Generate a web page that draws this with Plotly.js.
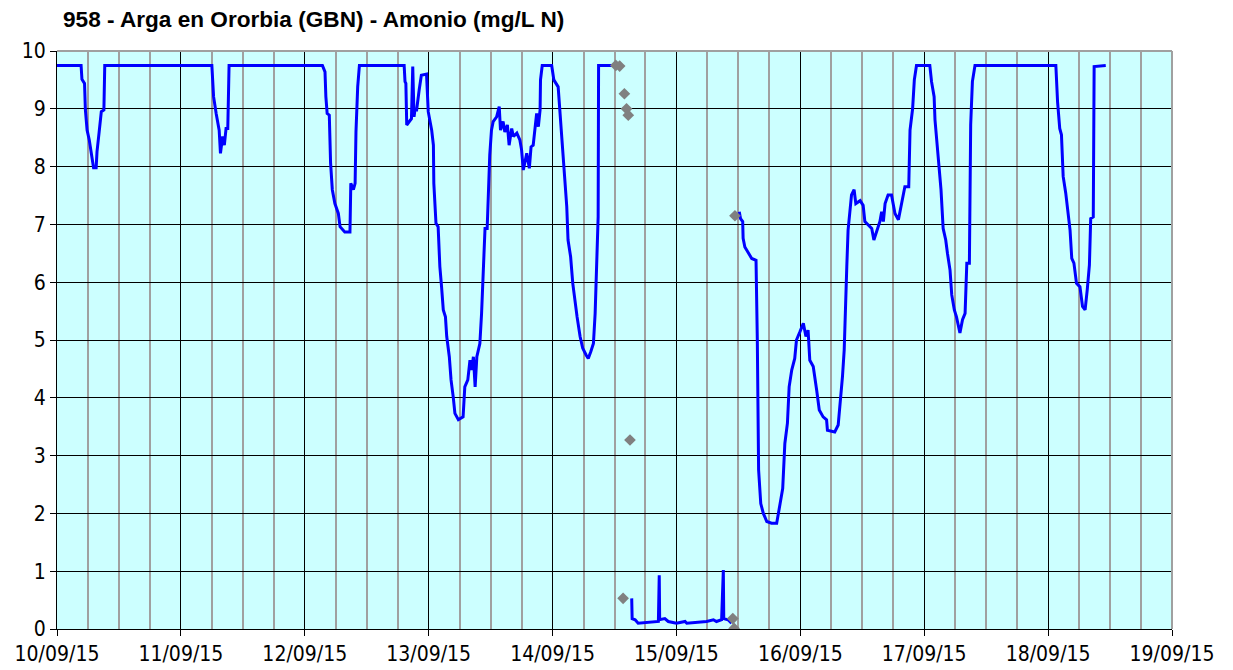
<!DOCTYPE html>
<html>
<head>
<meta charset="utf-8">
<script src="https://cdn.plot.ly/plotly-3.0.1.min.js"></script>
<style>html,body{margin:0;padding:0;background:#fff;}#chart{width:1233px;height:670px;}</style>
</head>
<body>
<div id="chart"></div>
<script>
// ---- DATA ----
const chartTitle = '958 - Arga en Ororbia (GBN) - Amonio (mg/L N)';
const dayDates = ['2015-09-10','2015-09-11','2015-09-12','2015-09-13','2015-09-14','2015-09-15','2015-09-16','2015-09-17','2015-09-18'];

// clock times (HH:MM) of the blue ammonia series, one list per day
const clockTimes = [
  ['00:00','04:40','04:50','05:20','05:30','05:50','06:15','06:35','07:05','07:35','07:45','08:10','08:35','09:05','09:15'],
  ['06:00','06:20','06:50','07:25','07:40','08:05','08:25','08:45','09:05','09:20'],
  ['03:25','03:55','04:05','04:20','04:45','05:00','05:20','05:50','06:30','06:50','07:45','08:45','08:55','09:25','09:45','09:55','10:15','10:35','19:15','19:25','19:35','19:45','20:15','20:40','20:55','21:10','21:20','21:40','22:10','22:35','23:35','23:55'],
  ['00:35','00:55','01:00','01:25','01:50','02:10','02:30','02:50','03:15','03:30','04:00','04:20','04:45','05:05','05:45','06:40','07:00','07:35','08:00','08:20','08:40','09:00','09:20','09:55','10:15','10:35','10:55','11:20','11:35','11:50','12:10','12:30','13:10','13:40','13:55','14:25','14:45','15:15','15:35','16:05','16:25','17:05','17:40','18:00','18:20','19:00','19:30','19:50','20:15','20:35','20:55','21:15','21:35','21:40','22:00','23:50'],
  ['00:15','01:05','01:25','01:45','02:15','02:45','03:00','03:30','03:55','04:20','04:45','05:20','05:50','06:30','06:55','07:25','07:55','08:15','08:30','08:50','08:55','11:45','13:00','15:20','15:25','16:00','16:35','20:30','20:40','20:45','21:45','22:25'],
  ['00:00','01:40','02:00','05:50','07:10','07:45','08:45','09:05','09:10','10:00','10:40','11:30','12:10','12:25','12:50','12:55','13:15','13:55','14:35','15:25','15:40','15:55','16:20','16:50','17:30','18:25','19:25','20:05','20:35','21:00','21:30','21:50','22:20','22:55','23:15','23:55'],
  ['00:35','01:05','01:30','01:50','02:30','03:10','03:40','04:25','05:05','05:15','06:40','07:20','07:50','08:10','08:30','08:45','09:00','09:15','09:35','09:55','10:25','10:45','11:35','12:10','12:30','13:10','13:50','14:15','14:45','15:25','15:45','16:05','16:25','17:00','17:40','18:20','19:00','19:40','20:15','21:00','21:15','21:45','22:05','22:30'],
  ['01:05','01:25','01:55','02:05','02:30','02:55','03:15','03:40','04:10','04:30','05:00','05:20','05:50','06:15','06:55','07:25','07:55','08:15','08:45','09:00','09:20','09:50'],
  ['01:30','01:50','02:15','02:35','02:55','03:25','03:45','04:15','04:35','05:00','05:30','06:10','06:40','07:10','07:35','08:00','08:15','08:45','08:55','11:10']
];
// ammonia values (mg/L N), null = gap in the record
const ammonia = [
  [9.75,9.75,9.51,9.44,8.98,8.63,8.46,8.26,7.98,7.98,8.26,8.6,8.95,8.98,9.75],
  [9.75,9.21,8.92,8.63,8.23,8.52,8.37,8.66,8.66,9.75],
  [9.75,9.64,9.21,8.92,8.89,8.06,7.6,7.36,7.19,6.96,6.87,6.87,7.71,7.6,7.71,8.6,9.38,9.75,9.75,9.47,9.44,8.72,8.78,8.83,9.73,8.86,8.98,8.98,9.33,9.58,9.6,8.95],
  [8.63,8.37,7.71,7.02,6.96,6.27,5.92,5.52,5.4,5.06,4.71,4.31,4.02,3.73,3.62,3.67,4.19,4.31,4.65,4.48,4.71,4.19,4.71,4.94,5.46,6.1,6.93,6.93,7.6,8.2,8.63,8.78,8.86,9.04,8.63,8.78,8.6,8.72,8.37,8.66,8.52,8.58,8.46,8.29,7.94,8.23,7.97,8.34,8.37,8.63,8.92,8.69,8.98,9.5,9.75,9.75],
  [9.5,9.38,8.98,8.52,8.06,7.31,6.73,6.44,5.98,5.63,5.4,5.06,4.86,4.74,4.68,4.8,4.94,5.46,6.1,7.13,9.75,9.75,null,0.53,0.18,0.16,0.1,0.13,0.93,0.16,0.18,0.13],
  [0.1,0.13,0.1,0.13,0.16,0.13,0.16,1.02,0.18,0.16,0.1,null,7.22,7.1,7.05,6.76,6.61,6.5,6.41,6.38,5.0,2.75,2.17,2.0,1.86,1.83,1.83,2.17,2.43,3.21,3.56,4.19,4.48,4.68,5.0,5.14],
  [5.29,5.06,5.17,4.65,4.54,4.13,3.79,3.67,3.62,3.44,3.41,3.53,3.96,4.37,4.83,5.69,6.27,6.9,7.19,7.51,7.6,7.36,7.41,7.33,7.05,6.99,6.93,6.73,6.87,7.05,7.22,7.05,7.36,7.51,7.51,7.19,7.08,7.36,7.65,7.65,8.63,9.0,9.5,9.75],
  [9.75,9.47,9.21,8.81,8.34,7.88,7.6,6.93,6.73,6.5,6.21,5.78,5.52,5.4,5.12,5.35,5.46,6.33,6.33,8.72,9.47,9.75],
  [9.75,9.12,8.66,8.55,7.83,7.54,7.25,6.9,6.41,6.33,5.98,5.92,5.58,5.52,5.87,6.3,7.1,7.13,9.73,9.75]
];

// grey diamond points (separate series)
const greyTimes = ['2015-09-14 12:15','2015-09-14 13:00','2015-09-14 13:40','2015-09-14 13:55','2015-09-14 14:20','2015-09-14 14:40','2015-09-14 15:00','2015-09-15 10:55','2015-09-15 11:10','2015-09-15 11:20'];
const greyValues = [9.75,9.74,0.53,9.26,9.0,8.89,3.27,0.18,0.01,7.15];

const xTickFormat = '%d/%m/%y';

// ---- build series ----
const xs = [], ys = [];
dayDates.forEach((d, i) => {
  clockTimes[i].forEach((t, j) => { xs.push(d + ' ' + t); ys.push(ammonia[i][j]); });
});

const tickFont = {family: '"DejaVu Sans Condensed", "DejaVu Sans", Verdana, sans-serif', size: 21, color: '#000'};

const traces = [
  {x: xs, y: ys, type: 'scatter', mode: 'lines', connectgaps: false,
   line: {color: '#0000FF', width: 3}, hoverinfo: 'x+y'},
  {x: greyTimes, y: greyValues, type: 'scatter', mode: 'markers',
   marker: {symbol: 'diamond', size: 9, color: '#808080'}}
];

const layout = {
  width: 1233, height: 670,
  margin: {l: 57, r: 61, t: 51, b: 41},
  paper_bgcolor: '#ffffff', plot_bgcolor: '#CCFFFF',
  showlegend: false,
  title: {text: chartTitle, x: 63/1233, xanchor: 'left', xref: 'container',
          y: 1 - 19/670, yanchor: 'middle', yref: 'container',
          font: {family: '"Liberation Sans", Arial, sans-serif', size: 22.6, weight: 'bold', color: '#000'}},
  xaxis: {type: 'date', range: ['2015-09-10 00:00', '2015-09-19 00:00'],
          tick0: '2015-09-10', dtick: 86400000, tickformat: xTickFormat,
          showgrid: true, gridcolor: '#000', gridwidth: 1,
          minor: {dtick: 21600000, tick0: '2015-09-10', showgrid: true, gridcolor: '#A0A0A0', gridwidth: 2, ticks: ''},
          ticks: 'outside', ticklen: 6, tickcolor: '#000', tickwidth: 1,
          showline: true, linecolor: '#000', linewidth: 1, zeroline: false,
          tickfont: tickFont, fixedrange: true},
  yaxis: {range: [0, 10], dtick: 1, tick0: 0,
          showgrid: true, gridcolor: '#000', gridwidth: 1,
          ticks: 'outside', ticklen: 6, tickcolor: '#000', tickwidth: 1,
          showline: true, linecolor: '#000', linewidth: 1, zeroline: false,
          tickfont: tickFont, fixedrange: true},
  shapes: [
    {type: 'line', xref: 'paper', yref: 'paper', x0: 0, x1: 1, y0: 1, y1: 1, line: {color: '#A0A0A0', width: 2}, layer: 'above'},
    {type: 'line', xref: 'paper', yref: 'paper', x0: 1, x1: 1, y0: 0, y1: 1, line: {color: '#A0A0A0', width: 2}, layer: 'above'}
  ]
};

Plotly.newPlot('chart', traces, layout, {displayModeBar: false, staticPlot: true});
</script>
</body>
</html>
